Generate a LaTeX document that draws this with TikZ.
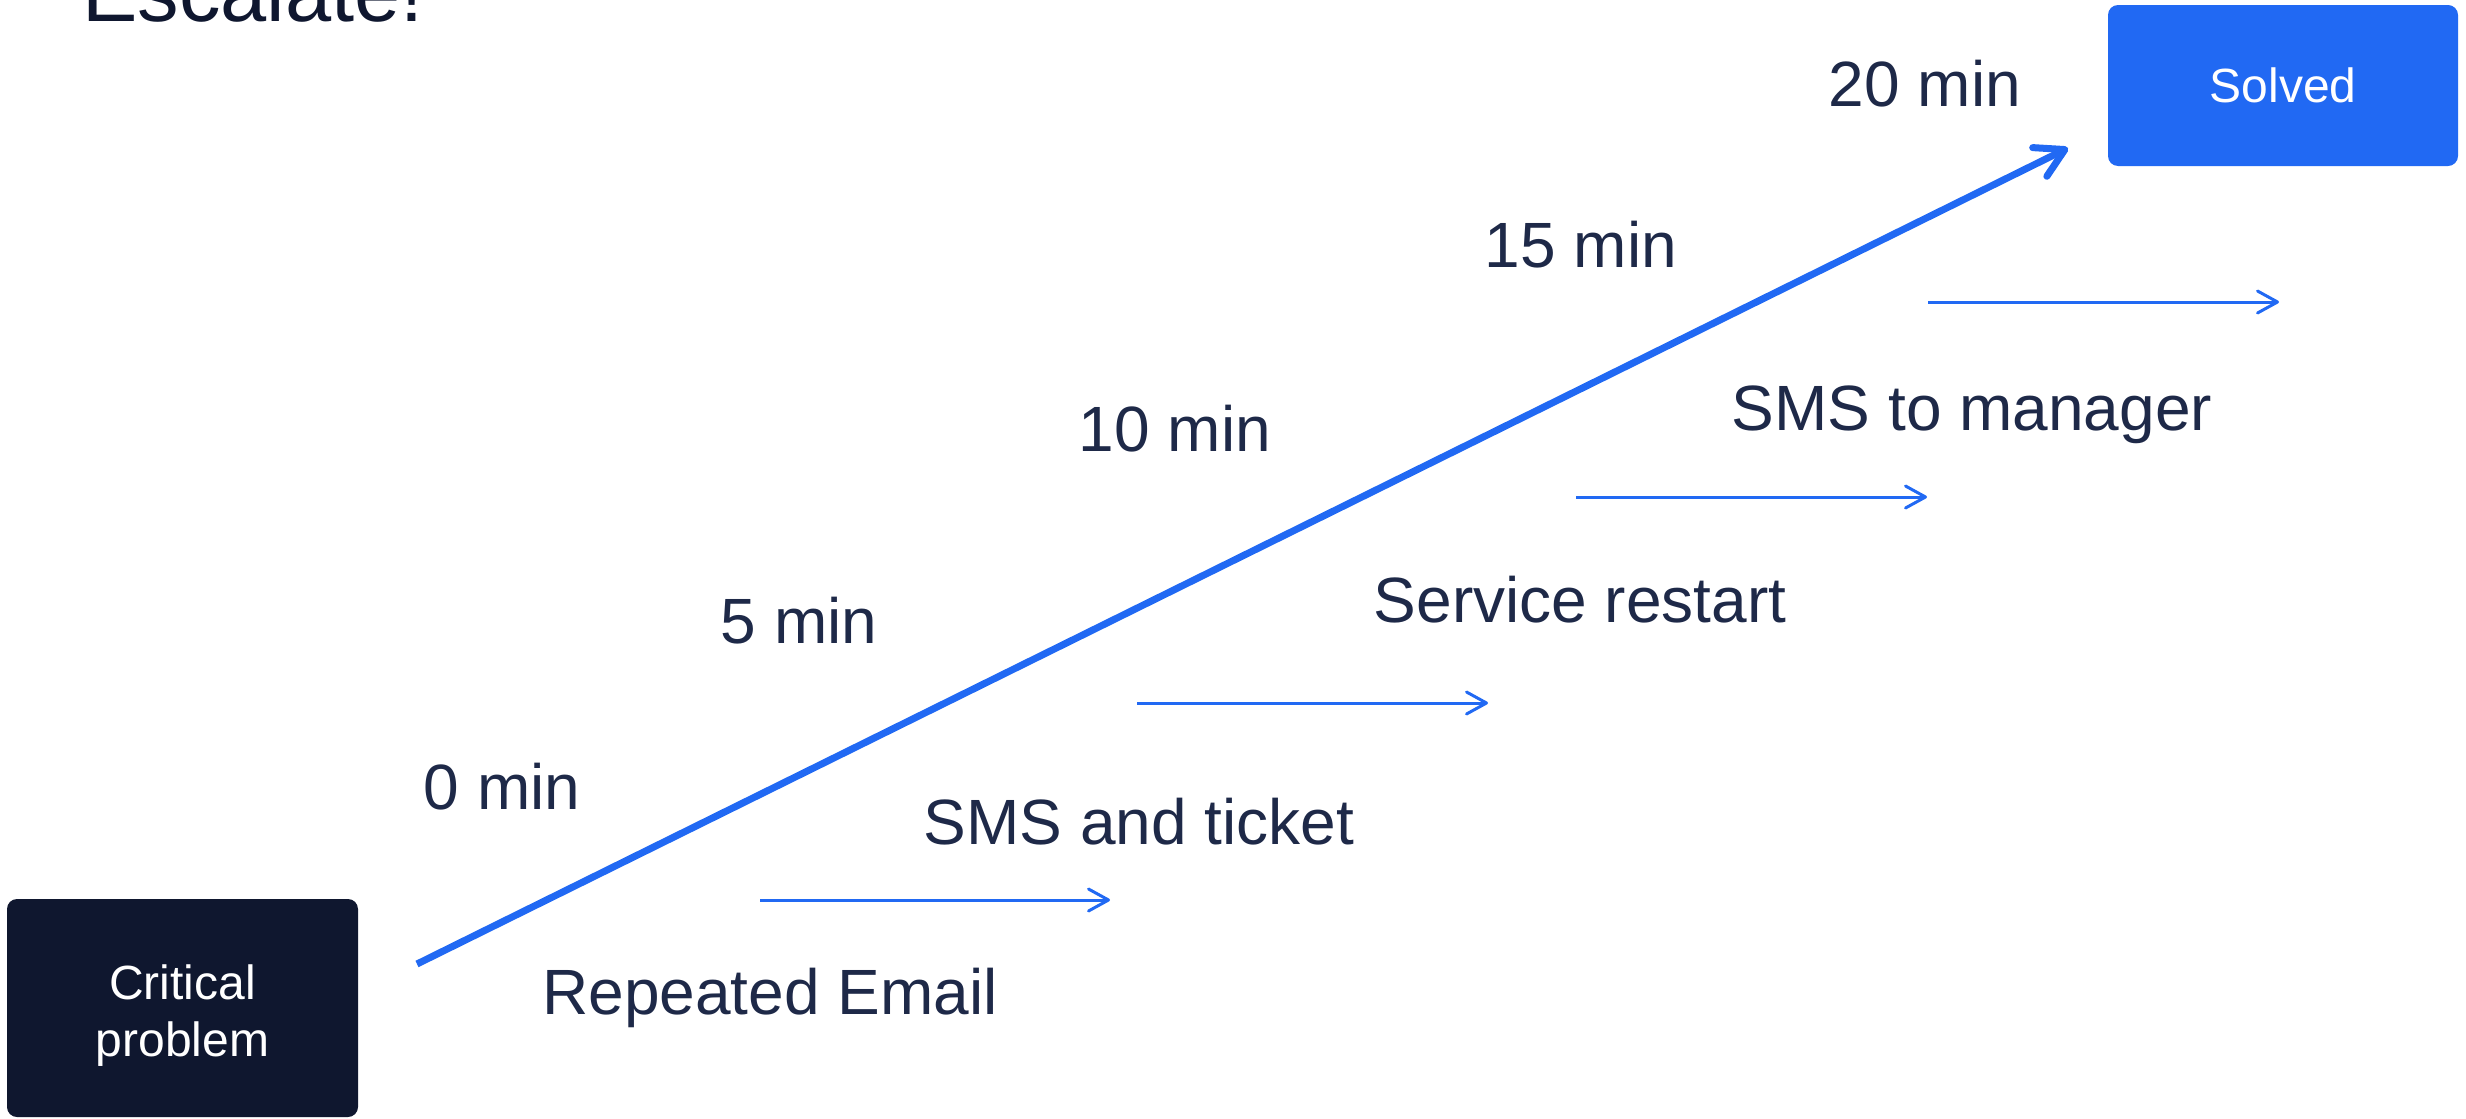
\documentclass[tikz,border=0pt]{standalone}
\usepackage{fontspec}
\setmainfont{Liberation Sans}
\usetikzlibrary{arrows.meta}
\definecolor{navy}{RGB}{15,23,47}
\definecolor{labelc}{RGB}{30,41,72}
\definecolor{blu}{RGB}{33,105,243}
\begin{document}
\begin{tikzpicture}[x=1pt,y=-1pt,
  lbl/.style={text=labelc,font=\fontsize{64}{77}\selectfont,anchor=base,inner sep=0pt},
  boxst/.style={rounded corners=10pt,inner sep=0pt,text=white,align=center,font=\fontsize{48}{57}\selectfont},
  smallarrow/.style={draw=blu,line width=3pt,-{Straight Barb[length=20pt,width=22pt,round]}},
  bigarrow/.style={draw=blu,line width=7pt,-{Straight Barb[length=28pt,width=32pt,round]}}]
\useasboundingbox (0,0) rectangle (2466,1119);
\node[anchor=base west,inner sep=0pt,text=navy,font=\fontsize{83}{100}\selectfont] (title) at (82,21) {Escalate!};
\node[boxst,fill=navy,minimum width=351pt,minimum height=218pt] (crit) at (182.5,1008) {};
\node[boxst] (crittext) at ([yshift=-8pt]crit.center) {Critical\\problem};
\node[boxst,fill=blu,minimum width=350pt,minimum height=161pt] (solved) at (2283,85.5) {Solved};
% main arrow
\coordinate (ms) at (417,964);
\coordinate (me) at (2068,148);
\draw[bigarrow] (ms) -- (me);
% small arrows
\coordinate (a1s) at (760,900);  \coordinate (a1e) at (1110,900);
\coordinate (a2s) at (1137,703); \coordinate (a2e) at (1488,703);
\coordinate (a3s) at (1576,497); \coordinate (a3e) at (1927,497);
\coordinate (a4s) at (1928,302); \coordinate (a4e) at (2279,302);
\draw[smallarrow] (a1s) -- (a1e);
\draw[smallarrow] (a2s) -- (a2e);
\draw[smallarrow] (a3s) -- (a3e);
\draw[smallarrow] (a4s) -- (a4e);
% time labels
\node[lbl] (t0) at (502,809) {0 min};
\node[lbl] (t5) at (799,643) {5 min};
\node[lbl] (t10) at (1175,451) {10 min};
\node[lbl] (t15) at (1581,267) {15 min};
\node[lbl] (t20) at (1925,106) {20 min};
% step labels
\node[lbl] (s1) at (770,1014) {Repeated Email};
\node[lbl] (s2) at (1139,844) {SMS and ticket};
\node[lbl] (s3) at (1580,622) {Service restart};
\node[lbl] (s4) at (1972,430) {SMS to manager};
\end{tikzpicture}
\end{document}
